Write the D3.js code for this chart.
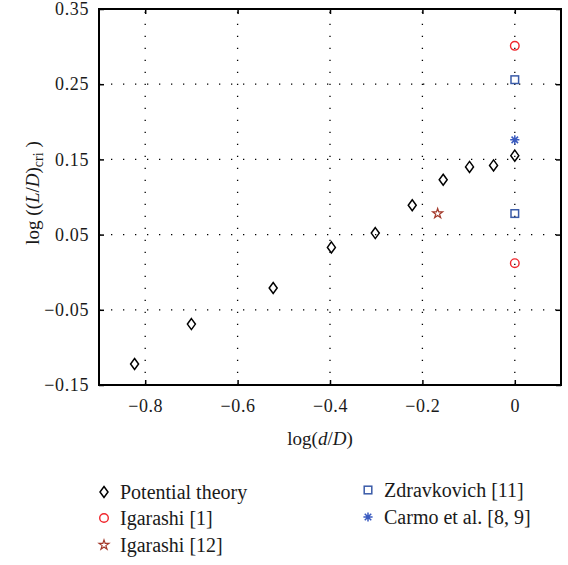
<!DOCTYPE html>
<html>
<head>
<meta charset="utf-8">
<script src="https://cdn.jsdelivr.net/npm/d3@7"></script>
<style>
    body { margin: 0; background: #fff; }
    svg { display: block; }
    text { font-family: "Liberation Serif", "DejaVu Serif", "Times New Roman", serif; fill: #1a1a1a; }
</style>
</head>
<body>
<div id="chart"></div>
<script>
const potentialX = [-0.823, -0.700, -0.523, -0.397, -0.302, -0.222, -0.155, -0.098, -0.046, 0];
const potentialY = [-0.122, -0.069, -0.021, 0.033, 0.052, 0.089, 0.123, 0.140, 0.142, 0.155];
const igarashi1X = [0, 0];
const igarashi1Y = [0.301, 0.012];
const igarashi12X = [-0.167];
const igarashi12Y = [0.078];
const zdravX = [0, 0];
const zdravY = [0.256, 0.078];
const carmoX = [0];
const carmoY = [0.176];

const xTicks = [-0.8, -0.6, -0.4, -0.2, 0];
const yTicks = [-0.15, -0.05, 0.05, 0.15, 0.25, 0.35];

const width = 568, height = 565;
const box = { left: 99, right: 561, top: 9, bottom: 385 };
const serif = '"Liberation Serif", "DejaVu Serif", serif';

const svg = d3.select('#chart').append('svg')
    .attr('width', width)
    .attr('height', height)
    .attr('font-family', serif);

const x = d3.scaleLinear().domain([-0.9, 0.1]).range([box.left, box.right]);
const y = d3.scaleLinear().domain([-0.15, 0.35]).range([box.bottom, box.top]);

const fmt = (v) => (v === 0 ? '0' : d3.format('.1f')(v).replace('-', '\u2212'));
const fmtY = (v) => d3.format('.2f')(v).replace('-', '\u2212');

/* dotted grid */
const grid = svg.append('g').attr('class', 'grid')
    .attr('stroke', '#000')
    .attr('stroke-width', 1.3)
    .attr('stroke-dasharray', '1.3,10.7');
grid.selectAll('.gx').data(xTicks).enter().append('line')
    .attr('x1', (d) => x(d)).attr('x2', (d) => x(d))
    .attr('y1', box.bottom).attr('y2', box.top);
grid.selectAll('.gy').data(yTicks.slice(1, -1)).enter().append('line')
    .attr('x1', box.left).attr('x2', box.right)
    .attr('y1', (d) => y(d)).attr('y2', (d) => y(d));

/* axes, ticks inward on all four sides */
const tickLen = 5;
svg.append('g')
    .attr('transform', `translate(0,${box.bottom})`)
    .call(d3.axisBottom(x).tickValues(xTicks).tickSizeInner(-tickLen).tickSizeOuter(0).tickPadding(14).tickFormat(fmt));
svg.append('g')
    .attr('transform', `translate(0,${box.top})`)
    .call(d3.axisTop(x).tickValues(xTicks).tickSizeInner(-tickLen).tickSizeOuter(0).tickFormat(''));
svg.append('g')
    .attr('transform', `translate(${box.left},0)`)
    .call(d3.axisLeft(y).tickValues(yTicks).tickSizeInner(-tickLen).tickSizeOuter(0).tickPadding(10).tickFormat(fmtY));
svg.append('g')
    .attr('transform', `translate(${box.right},0)`)
    .call(d3.axisRight(y).tickValues(yTicks).tickSizeInner(-tickLen).tickSizeOuter(0).tickFormat(''));

svg.selectAll('.domain').remove();
svg.selectAll('g').attr('font-family', serif);
svg.selectAll('.tick line').attr('stroke', '#000').attr('stroke-width', 1.5);
svg.selectAll('.tick text')
    .attr('font-family', serif)
    .style('font-size', '18px')
    .style('letter-spacing', '0.6px')
    .attr('fill', '#1a1a1a');

svg.append('rect')
    .attr('x', box.left).attr('y', box.top)
    .attr('width', box.right - box.left).attr('height', box.bottom - box.top)
    .attr('fill', 'none').attr('stroke', '#000').attr('stroke-width', 2);

/* axis titles */
const xt = svg.append('text')
    .attr('x', (box.left + box.right) / 2 - 10).attr('y', 445)
    .attr('text-anchor', 'middle')
    .style('font-size', '19px');
xt.append('tspan').text('log(');
xt.append('tspan').style('font-style', 'italic').text('d');
xt.append('tspan').text('/');
xt.append('tspan').style('font-style', 'italic').text('D');
xt.append('tspan').text(')');

const yt = svg.append('text')
    .attr('transform', `translate(39,${(box.top + box.bottom) / 2 - 4}) rotate(-90)`)
    .attr('text-anchor', 'middle')
    .style('font-size', '19px');
yt.append('tspan').text('log ((');
yt.append('tspan').style('font-style', 'italic').text('L');
yt.append('tspan').text('/');
yt.append('tspan').style('font-style', 'italic').text('D');
yt.append('tspan').text(')');
yt.append('tspan').attr('dy', 4).style('font-size', '14px').text('cri');
yt.append('tspan').attr('dy', -4).text(' )');

/* markers */
const markers = {
    diamond: (g) => g.append('path').attr('d', 'M0,-5.5L4,0L0,5.5L-4,0Z')
        .attr('fill', 'none').attr('stroke', '#000').attr('stroke-width', 1.5),
    circle: (g) => g.append('circle').attr('r', 4.3)
        .attr('fill', 'none').attr('stroke', '#f0262c').attr('stroke-width', 1.4),
    star: (g) => g.append('path').attr('d', d3.symbol(d3.symbolStar, 30)())
        .attr('fill', 'none').attr('stroke', '#a3392a').attr('stroke-width', 1.2),
    square: (g) => g.append('rect').attr('x', -3.8).attr('y', -3.8).attr('width', 7.6).attr('height', 7.6)
        .attr('fill', 'none').attr('stroke', '#3a5ba8').attr('stroke-width', 1.5),
    asterisk: (g) => {
        const p = d3.path();
        for (let i = 0; i < 4; i++) {
            const a = i * Math.PI / 4;
            p.moveTo(-4.6 * Math.cos(a), -4.6 * Math.sin(a));
            p.lineTo(4.6 * Math.cos(a), 4.6 * Math.sin(a));
        }
        g.append('path').attr('d', p.toString())
            .attr('stroke', '#3a5bc0').attr('stroke-width', 1.5);
    }
};

const series = [
    { name: 'Potential theory', xs: potentialX, ys: potentialY, marker: 'diamond' },
    { name: 'Igarashi [1]', xs: igarashi1X, ys: igarashi1Y, marker: 'circle' },
    { name: 'Igarashi [12]', xs: igarashi12X, ys: igarashi12Y, marker: 'star' },
    { name: 'Zdravkovich [11]', xs: zdravX, ys: zdravY, marker: 'square' },
    { name: 'Carmo et al. [8, 9]', xs: carmoX, ys: carmoY, marker: 'asterisk' }
];

const points = svg.append('g').attr('class', 'points');
series.forEach((s) => {
    s.xs.forEach((xv, i) => {
        const g = points.append('g')
            .attr('transform', `translate(${x(xv)},${y(s.ys[i])})`);
        markers[s.marker](g);
    });
});

/* legend */
const legendPos = [
    { mx: 104, ty: 499 }, { mx: 104, ty: 525 }, { mx: 104, ty: 552 },
    { mx: 368, ty: 497 }, { mx: 368, ty: 524 }
];
const legend = svg.append('g').attr('class', 'legend');
series.forEach((s, i) => {
    const p = legendPos[i];
    const g = legend.append('g').attr('transform', `translate(${p.mx},${p.ty - 7})`);
    markers[s.marker](g);
    legend.append('text')
        .attr('x', p.mx + 16).attr('y', p.ty)
        .style('font-size', '20px')
        .text(s.name);
});
</script>
</body>
</html>
